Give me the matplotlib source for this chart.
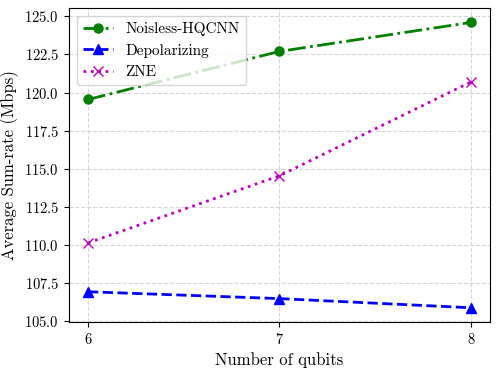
import matplotlib
matplotlib.use("Agg")
import matplotlib.pyplot as plt

plt.rcParams['font.family'] = 'serif'
plt.rcParams['font.serif'] = ['cmr10']
plt.rcParams['mathtext.fontset'] = 'cm'
plt.rcParams['axes.formatter.use_mathtext'] = True

qubits = [6, 7, 8]
noiseless = [119.55, 122.7, 124.6]
depolarizing = [106.95, 106.5, 105.9]
zne = [110.15, 114.55, 120.7]

fig, ax = plt.subplots(figsize=(4.99, 3.71), dpi=100)
ax.plot(qubits, noiseless, 'g-.', marker='o', lw=2, ms=6.5, label='Noisless-HQCNN')
ax.plot(qubits, depolarizing, 'b--', marker='^', lw=2, ms=6.5, label='Depolarizing')
ax.plot(qubits, zne, 'm:', marker='x', lw=2, ms=6.5, label='ZNE')

ax.set_xticks(qubits)
ax.set_xlabel('Number of qubits', fontsize=12)
ax.set_ylabel('Average Sum-rate (Mbps)', fontsize=12)
ax.tick_params(labelsize=10.5)
ax.grid(True, linestyle='--', color='lightgray', alpha=0.9)
ax.legend(loc='upper left', fontsize=11)

fig.subplots_adjust(left=0.138, right=0.982, top=0.978, bottom=0.132)
fig.savefig('out.png', dpi=100)
